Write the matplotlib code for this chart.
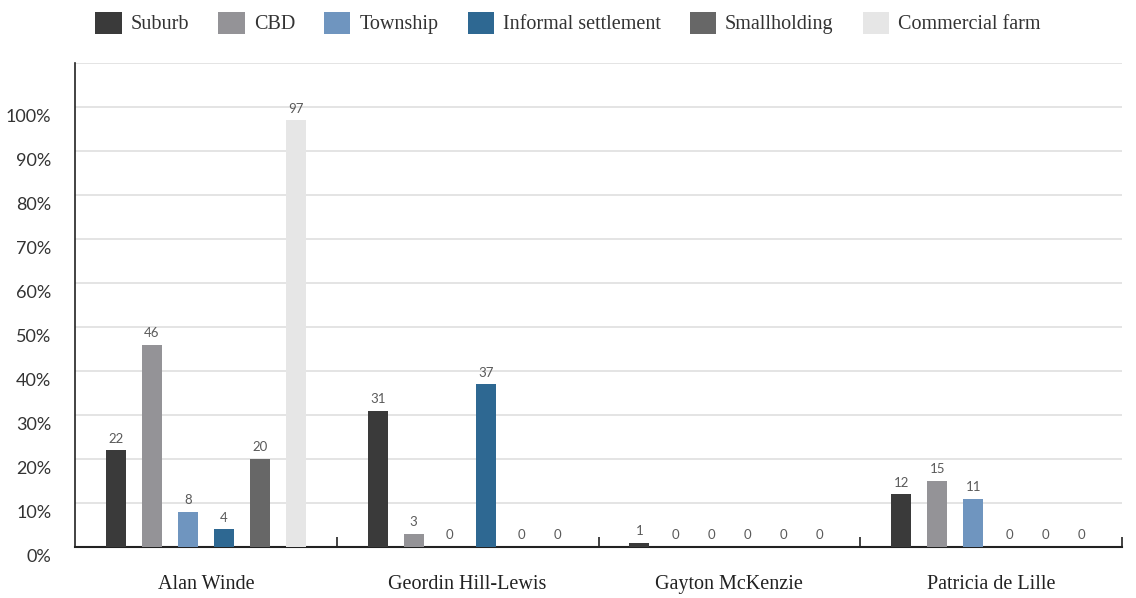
import matplotlib
matplotlib.use("Agg")
import matplotlib.pyplot as plt
import matplotlib.transforms as mtransforms
from matplotlib.patches import Patch
import numpy as np

candidates = ["Alan Winde", "Geordin Hill-Lewis", "Gayton McKenzie", "Patricia de Lille"]
series_names = ["Suburb", "CBD", "Township", "Informal settlement", "Smallholding", "Commercial farm"]
suburb = [22, 31, 1, 12]
cbd = [46, 3, 0, 15]
township = [8, 0, 0, 11]
informal = [4, 37, 0, 0]
smallholding = [20, 0, 0, 0]
commercial = [97, 0, 0, 0]
series_values = [suburb, cbd, township, informal, smallholding, commercial]
colors = ["#3a3a3a", "#949397", "#6f95bf", "#2e6892", "#676767", "#e6e6e6"]
yticks = [0, 10, 20, 30, 40, 50, 60, 70, 80, 90, 100]
ytick_labels = [f"{v}%" for v in yticks]

serif = ["Liberation Serif", "DejaVu Serif"]
sans = ["Lato", "DejaVu Sans"]

fig = plt.figure(figsize=(11.36, 5.98), dpi=100)
ax = fig.add_axes([75/1136, 1-547/598, (1122-75)/1136, (547-63)/598])

x = np.arange(len(candidates))
spacing = 0.1375
width = 0.076
n = len(series_names)
for i, (vals, c) in enumerate(zip(series_values, colors)):
    pos = x + (i - (n-1)/2) * spacing
    ax.bar(pos, vals, width=width, color=c, zorder=3)
    for xp, v in zip(pos, vals):
        ax.annotate(f"{v}", (xp, v), xytext=(0, 4), textcoords="offset points",
                    ha="center", va="bottom", fontsize=9.5, color="#5a5a5a",
                    family=sans, zorder=4)

ax.set_xlim(-0.5, 3.5)
ax.set_ylim(0, 110)
ax.set_yticks(yticks + [110])
ax.set_yticklabels(ytick_labels + [""], fontsize=13, color="#333333", family=sans)
ax.tick_params(axis="y", length=0, pad=17)
offset = mtransforms.ScaledTranslation(0, -8/100, fig.dpi_scale_trans)
for lab in ax.get_yticklabels():
    lab.set_transform(lab.get_transform() + offset)

ax.set_xticks(x)
ax.set_xticklabels(candidates, fontsize=14.5, color="#222222", family=serif)
ax.tick_params(axis="x", which="major", length=0, pad=20)
ax.set_xticks([0.5, 1.5, 2.5, 3.5], minor=True)
ax.tick_params(axis="x", which="minor", direction="in", length=7, width=1.2, color="#222222")

ax.grid(axis="y", color="#e2e2e2", linewidth=1.3, zorder=0)
ax.set_axisbelow(True)
for s in ["top", "right"]:
    ax.spines[s].set_visible(False)
ax.spines["left"].set_color("#222222")
ax.spines["left"].set_linewidth(1.2)
ax.spines["bottom"].set_color("#222222")
ax.spines["bottom"].set_linewidth(1.5)

handles = [Patch(facecolor=c, edgecolor="none") for c in colors]
leg = fig.legend(handles, series_names, loc="center", bbox_to_anchor=(0.5, 1-23/598), ncol=6,
                 frameon=False, prop={"family": serif, "size": 14.5},
                 handlelength=1.3, handleheight=1.3, handletextpad=0.45, columnspacing=1.45)
for t in leg.get_texts():
    t.set_color("#333333")

fig.savefig("out.png", dpi=100)
